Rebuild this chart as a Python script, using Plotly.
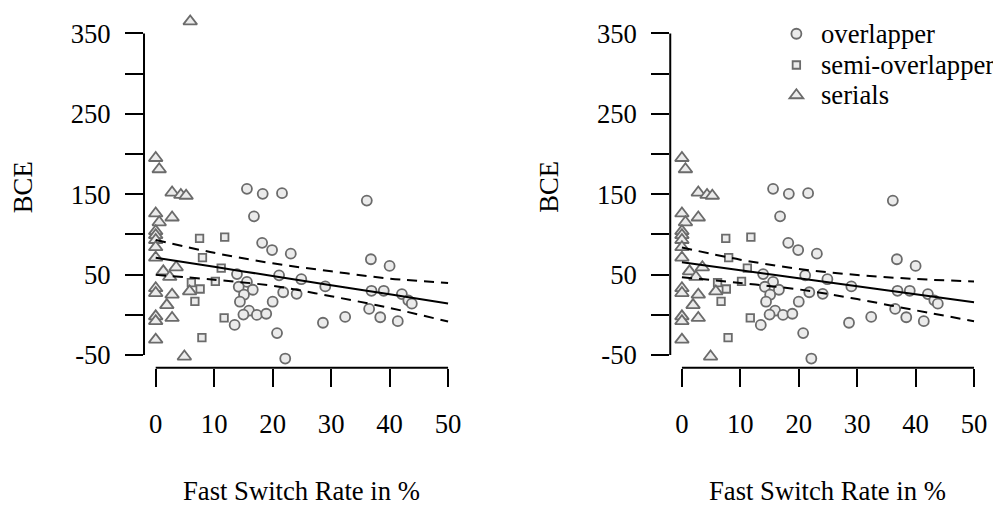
import plotly.graph_objects as go

# ---------------- data ----------------
over_x = [15.6, 18.3, 21.6, 36.1, 16.8, 18.2, 19.9, 23.1, 36.8, 40.0, 13.9, 21.1, 24.9,
          15.6, 14.2, 16.6, 15.1, 29.0, 21.8, 24.1, 36.9, 39.0, 42.1, 43.2, 43.8, 14.4,
          20.0, 15.95, 15.0, 17.3, 18.9, 36.5, 13.5, 28.6, 32.4, 38.4, 41.4, 20.75, 22.15]
over_y = [156.6, 150.4, 151.2, 142.0, 122.4, 89.5, 80.5, 76.0, 69.0, 60.7, 50.6, 49.0, 44.2,
          40.8, 34.8, 31.1, 24.9, 35.2, 28.0, 26.0, 29.8, 29.8, 25.7, 17.9, 13.8, 16.2,
          16.2, 5.0, 0.2, -0.2, 1.2, 7.2, -12.7, -10.0, -2.7, -3.1, -8.0, -22.8, -54.5]

semi_x = [7.5, 11.8, 8.0, 11.2, 6.1, 10.2, 7.6, 6.7, 11.7, 7.9]
semi_y = [95.0, 96.5, 71.0, 58.0, 40.0, 41.5, 32.0, 16.7, -4.0, -28.5]

ser_x = [5.9, 0.0, 0.6, 2.8, 4.3, 5.2, 0.0, 2.8, 0.6, 0.0, 0.0, 0.0, 0.0, 0.0,
         1.3, 3.5, 2.4, 0.0, 0.0, 2.8, 5.8, 1.9, 0.0, 0.0, 2.8, 0.0, 4.9]
ser_y = [365.0, 195.0, 181.0, 152.0, 149.0, 148.0, 126.0, 121.0, 115.0, 104.0, 99.0, 93.0,
         84.0, 71.0, 54.0, 59.0, 47.0, 33.0, 27.0, 25.0, 29.0, 12.0, -2.0, -8.0, -4.0,
         -31.0, -52.0]
outlier_index = 0  # serial point removed in the right-hand panel

# regression line and confidence band
fit_x = [0, 10, 20, 30, 40, 50]
fit_left = [71.0, 59.6, 48.2, 36.8, 25.4, 14.0]
upper_left = [93.0, 77.0, 64.0, 54.0, 45.0, 39.5]
lower_left = [49.6, 43.5, 36.0, 23.0, 8.5, -8.5]
fit_right = [65.2, 55.2, 45.3, 35.3, 25.4, 15.4]
upper_right = [83.7, 68.5, 57.0, 49.5, 44.5, 41.4]
lower_right = [46.7, 39.5, 31.5, 19.5, 5.5, -8.0]

x_ticks = [0, 10, 20, 30, 40, 50]
y_ticks = [-50, 0, 50, 100, 150, 200, 250, 300, 350]
y_tick_text = ["-50", "", "50", "", "150", "", "250", "", "350"]
legend_names = ["overlapper", "semi-overlapper", "serials"]

# ---------------- styling ----------------
FONT = "Liberation Serif"
FS = 26.67
EDGE = "#6b6b6b"
FILL = "#ebebeb"
W, H = 993, 506

fig = go.Figure()


def add_panel(n, ox, oy, sx, sy, tx, ty, fit, up, lo):
    xa = "x" if n == 1 else f"x{n}"
    ya = "y" if n == 1 else f"y{n}"
    specs = [(legend_names[0], ox, oy, "circle", 10),
             (legend_names[1], sx, sy, "square", 7.5),
             (legend_names[2], tx, ty, "triangle-up", 12)]
    for name, xs, ys, sym, size in specs:
        fig.add_trace(go.Scatter(
            x=xs, y=ys, mode="markers", name=name, xaxis=xa, yaxis=ya,
            showlegend=False, cliponaxis=False,
            marker=dict(symbol=sym, size=size, color=FILL,
                        line=dict(color=EDGE, width=1.8))))
    fig.add_trace(go.Scatter(x=fit_x, y=fit, mode="lines", xaxis=xa, yaxis=ya,
                             showlegend=False, hoverinfo="skip", line_shape="spline",
                             line=dict(color="black", width=2)))
    for band in (up, lo):
        fig.add_trace(go.Scatter(x=fit_x, y=band, mode="lines", xaxis=xa, yaxis=ya,
                                 showlegend=False, hoverinfo="skip", line_shape="spline",
                                 line=dict(color="black", width=2, dash="10px,7px")))


add_panel(1, over_x, over_y, semi_x, semi_y, ser_x, ser_y,
          fit_left, upper_left, lower_left)
ser_x_r = [v for i, v in enumerate(ser_x) if i != outlier_index]
ser_y_r = [v for i, v in enumerate(ser_y) if i != outlier_index]
add_panel(2, over_x, over_y, semi_x, semi_y, ser_x_r, ser_y_r,
          fit_right, upper_right, lower_right)

ydom = [1 - 368.7 / H, 1 - 18.7 / H]
xdoms = [[144.3 / W, 460.7 / W], [671.6 / W, 987.7 / W]]

axis_font = dict(family=FONT, size=FS, color="black")
layout = dict(
    width=W, height=H, margin=dict(l=0, r=0, t=0, b=0),
    paper_bgcolor="white", plot_bgcolor="white",
    font=dict(family=FONT, size=FS, color="black"),
    showlegend=False,
)
for i, n in enumerate([1, 2]):
    xk = "xaxis" if n == 1 else f"xaxis{n}"
    yk = "yaxis" if n == 1 else f"yaxis{n}"
    layout[xk] = dict(domain=xdoms[i], range=[-2, 52], anchor="y" if n == 1 else f"y{n}",
                      showgrid=False, zeroline=False, showline=False,
                      ticks="outside", ticklen=18, tickwidth=2, tickcolor="black",
                      tickvals=x_ticks, ticktext=[str(v) for v in x_ticks],
                      tickfont=axis_font, ticklabelstandoff=14)
    layout[yk] = dict(domain=ydom, range=[-66, 366], anchor="x" if n == 1 else f"x{n}",
                      showgrid=False, zeroline=False, showline=False,
                      ticks="outside", ticklen=18, tickwidth=2, tickcolor="black",
                      tickvals=y_ticks, ticktext=y_tick_text,
                      tickfont=axis_font, ticklabelstandoff=9)
fig.update_layout(**layout)

# R-style axis spines spanning only first to last tick, plus axis titles
for n in [1, 2]:
    xs = "x" if n == 1 else f"x{n}"
    ys = "y" if n == 1 else f"y{n}"
    fig.add_shape(type="line", xref=xs, yref=f"{ys} domain",
                  x0=x_ticks[0], x1=x_ticks[-1], y0=0, y1=0,
                  line=dict(color="black", width=2))
    fig.add_shape(type="line", xref=f"{xs} domain", yref=ys,
                  x0=0, x1=0, y0=y_ticks[0], y1=y_ticks[-1],
                  line=dict(color="black", width=2))
    fig.add_annotation(text="Fast Switch Rate in %", xref=f"{xs} domain", yref="paper",
                       x=0.5, y=1 - 493 / H, xanchor="center", yanchor="middle",
                       showarrow=False, font=axis_font)
    fig.add_annotation(text="BCE", xref="paper", yref=f"{ys} domain",
                       x=(23 if n == 1 else 550.7) / W, y=0.52, textangle=-90,
                       xanchor="center", yanchor="middle",
                       showarrow=False, font=axis_font)

# legend (top-right of the right panel), drawn R-style
leg_sym_x = 798 / W
leg_text_x = 821 / W
leg_rows_y = [1 - 32.0 / H, 1 - 63.5 / H, 1 - 94.0 / H]
sym_line = dict(color=EDGE, width=1.8)
# circle
fig.add_shape(type="circle", xref="paper", yref="paper", xsizemode="pixel", ysizemode="pixel",
              xanchor=leg_sym_x, yanchor=leg_rows_y[0], x0=-5, x1=5, y0=-5, y1=5,
              fillcolor=FILL, line=sym_line)
# square
fig.add_shape(type="rect", xref="paper", yref="paper", xsizemode="pixel", ysizemode="pixel",
              xanchor=leg_sym_x, yanchor=leg_rows_y[1], x0=-3.75, x1=3.75, y0=-3.75, y1=3.75,
              fillcolor=FILL, line=sym_line)
# triangle
fig.add_shape(type="path", xref="paper", yref="paper", xsizemode="pixel", ysizemode="pixel",
              xanchor=leg_sym_x, yanchor=leg_rows_y[2],
              path="M-6.93,-3 L6.93,-3 L0,6 Z", fillcolor=FILL, line=sym_line)
for name, yy in zip(legend_names, leg_rows_y):
    fig.add_annotation(text=name, xref="paper", yref="paper", x=leg_text_x, y=yy,
                       xanchor="left", yanchor="middle", showarrow=False,
                       font=axis_font)

fig.write_html("out.html", config={"displayModeBar": False},
               post_script="document.body.style.margin='0px';")
